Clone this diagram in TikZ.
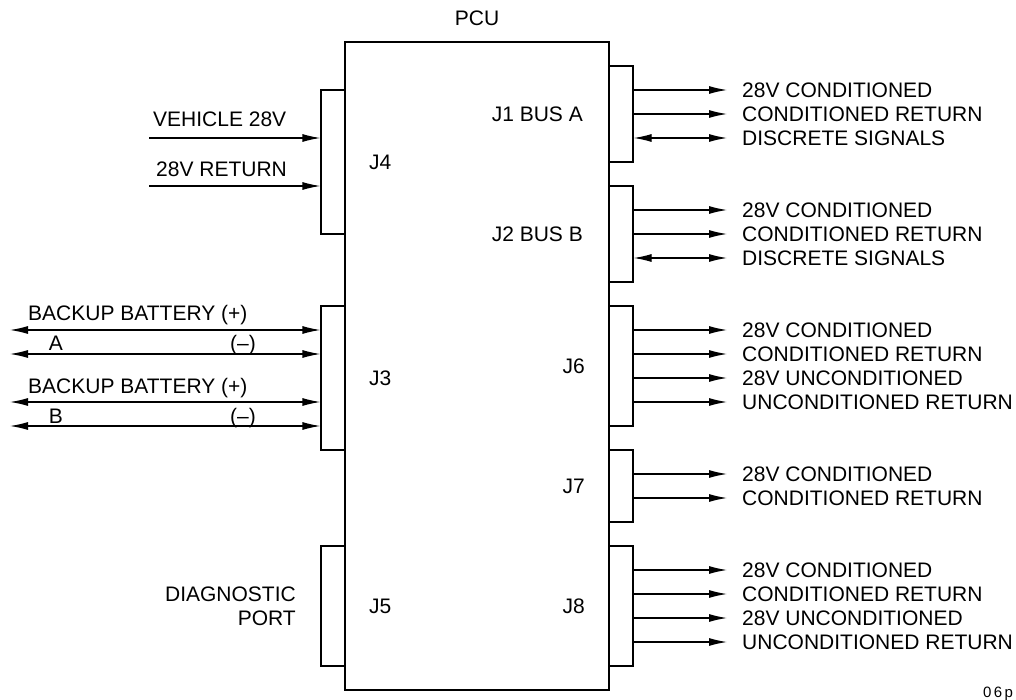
\documentclass[tikz,border=0pt]{standalone}
\usepackage{fontspec}
\setmainfont{Liberation Sans}
\usetikzlibrary{arrows.meta}
\begin{document}
\begin{tikzpicture}[x=1pt,y=-1pt,
  lw/.style={line width=1.2pt},
  conbox/.style={draw, lw, inner sep=0pt, minimum width=24pt},
  lbl/.style={inner sep=0pt, font=\fontsize{21}{24}\selectfont, text height=15pt, text depth=0pt},
  arr/.style={lw, -{Latex[length=18pt,width=8pt]}},
  darr/.style={lw, {Latex[length=18pt,width=8pt]}-{Latex[length=18pt,width=8pt]}}]
\useasboundingbox (0,0) rectangle (1016,700);

% main unit
\node[draw, lw, inner sep=0pt, minimum width=264pt, minimum height=648pt] (pcu) at (477,366) {};
\node[lbl] (pcul) at (477,18) {PCU};

% connector boxes
\node[conbox, minimum height=144pt] (j4) at (333,162) {};
\node[conbox, minimum height=144pt] (j3) at (333,378) {};
\node[conbox, minimum height=120pt] (j5) at (333,606) {};
\node[conbox, minimum height=96pt]  (j1) at (621,114) {};
\node[conbox, minimum height=96pt]  (j2) at (621,234) {};
\node[conbox, minimum height=120pt] (j6) at (621,366) {};
\node[conbox, minimum height=72pt]  (j7) at (621,486) {};
\node[conbox, minimum height=120pt] (j8) at (621,606) {};

% connector names
\node[lbl, anchor=west] (j4l) at (369,162) {J4};
\node[lbl, anchor=west] (j3l) at (369,378) {J3};
\node[lbl, anchor=west] (j5l) at (369,606) {J5};
\node[lbl, anchor=east] (j1l) at (583,114) {J1 BUS A};
\node[lbl, anchor=east] (j2l) at (583,234) {J2 BUS B};
\node[lbl, anchor=east] (j6l) at (585,366) {J6};
\node[lbl, anchor=east] (j7l) at (585,486) {J7};
\node[lbl, anchor=east] (j8l) at (585,606) {J8};

% J4 inputs
\node[lbl, anchor=west] (veh) at (153,119) {VEHICLE 28V};
\node[lbl, anchor=west] (ret) at (156,169) {28V RETURN};
\coordinate (v1) at (149,138);
\coordinate (v2) at (149,186);
\draw[arr] (v1) -- (j4.west |- v1);
\draw[arr] (v2) -- (j4.west |- v2);

% J3 backup batteries
\node[lbl, anchor=west] (bata) at (28,313) {BACKUP BATTERY (+)};
\node[lbl] (ala) at (56,343) {A};
\node[lbl] (amin) at (243,343) {(--)};
\node[lbl, anchor=west] (batb) at (28,386) {BACKUP BATTERY (+)};
\node[lbl] (blb) at (56,416) {B};
\node[lbl] (bmin) at (243,416) {(--)};
\coordinate (b1) at (10,330);
\coordinate (b2) at (10,354);
\coordinate (b3) at (10,402);
\coordinate (b4) at (10,426);
\draw[darr] (b1) -- (j3.west |- b1);
\draw[darr] (b2) -- (j3.west |- b2);
\draw[darr] (b3) -- (j3.west |- b3);
\draw[darr] (b4) -- (j3.west |- b4);

% J5
\node[lbl, anchor=east] (diag1) at (296,594) {DIAGNOSTIC};
\node[lbl, anchor=east] (diag2) at (296,618) {PORT};

% J1
\node[lbl, anchor=west] (r1a) at (742,90) {28V CONDITIONED};
\node[lbl, anchor=west] (r1b) at (742,114) {CONDITIONED RETURN};
\node[lbl, anchor=west] (r1c) at (742,138) {DISCRETE SIGNALS};
\draw[arr] (j1.east |- r1a) -- ([xshift=-15pt]r1a.west);
\draw[arr] (j1.east |- r1b) -- ([xshift=-15pt]r1b.west);
\draw[darr] (j1.east |- r1c) -- ([xshift=-15pt]r1c.west);

% J2
\node[lbl, anchor=west] (r2a) at (742,210) {28V CONDITIONED};
\node[lbl, anchor=west] (r2b) at (742,234) {CONDITIONED RETURN};
\node[lbl, anchor=west] (r2c) at (742,258) {DISCRETE SIGNALS};
\draw[arr] (j2.east |- r2a) -- ([xshift=-15pt]r2a.west);
\draw[arr] (j2.east |- r2b) -- ([xshift=-15pt]r2b.west);
\draw[darr] (j2.east |- r2c) -- ([xshift=-15pt]r2c.west);

% J6
\node[lbl, anchor=west] (r6a) at (742,330) {28V CONDITIONED};
\node[lbl, anchor=west] (r6b) at (742,354) {CONDITIONED RETURN};
\node[lbl, anchor=west] (r6c) at (742,378) {28V UNCONDITIONED};
\node[lbl, anchor=west] (r6d) at (742,402) {UNCONDITIONED RETURN};
\draw[arr] (j6.east |- r6a) -- ([xshift=-15pt]r6a.west);
\draw[arr] (j6.east |- r6b) -- ([xshift=-15pt]r6b.west);
\draw[arr] (j6.east |- r6c) -- ([xshift=-15pt]r6c.west);
\draw[arr] (j6.east |- r6d) -- ([xshift=-15pt]r6d.west);

% J7
\node[lbl, anchor=west] (r7a) at (742,474) {28V CONDITIONED};
\node[lbl, anchor=west] (r7b) at (742,498) {CONDITIONED RETURN};
\draw[arr] (j7.east |- r7a) -- ([xshift=-15pt]r7a.west);
\draw[arr] (j7.east |- r7b) -- ([xshift=-15pt]r7b.west);

% J8
\node[lbl, anchor=west] (r8a) at (742,570) {28V CONDITIONED};
\node[lbl, anchor=west] (r8b) at (742,594) {CONDITIONED RETURN};
\node[lbl, anchor=west] (r8c) at (742,618) {28V UNCONDITIONED};
\node[lbl, anchor=west] (r8d) at (742,642) {UNCONDITIONED RETURN};
\draw[arr] (j8.east |- r8a) -- ([xshift=-15pt]r8a.west);
\draw[arr] (j8.east |- r8b) -- ([xshift=-15pt]r8b.west);
\draw[arr] (j8.east |- r8c) -- ([xshift=-15pt]r8c.west);
\draw[arr] (j8.east |- r8d) -- ([xshift=-15pt]r8d.west);

% figure tag
\node[inner sep=0pt, font=\fontsize{15}{15}\selectfont, text height=10.7pt, text depth=0pt] (tag) at (998,692) {0\kern2.5pt 6\kern2.5pt p};
\end{tikzpicture}
\end{document}
